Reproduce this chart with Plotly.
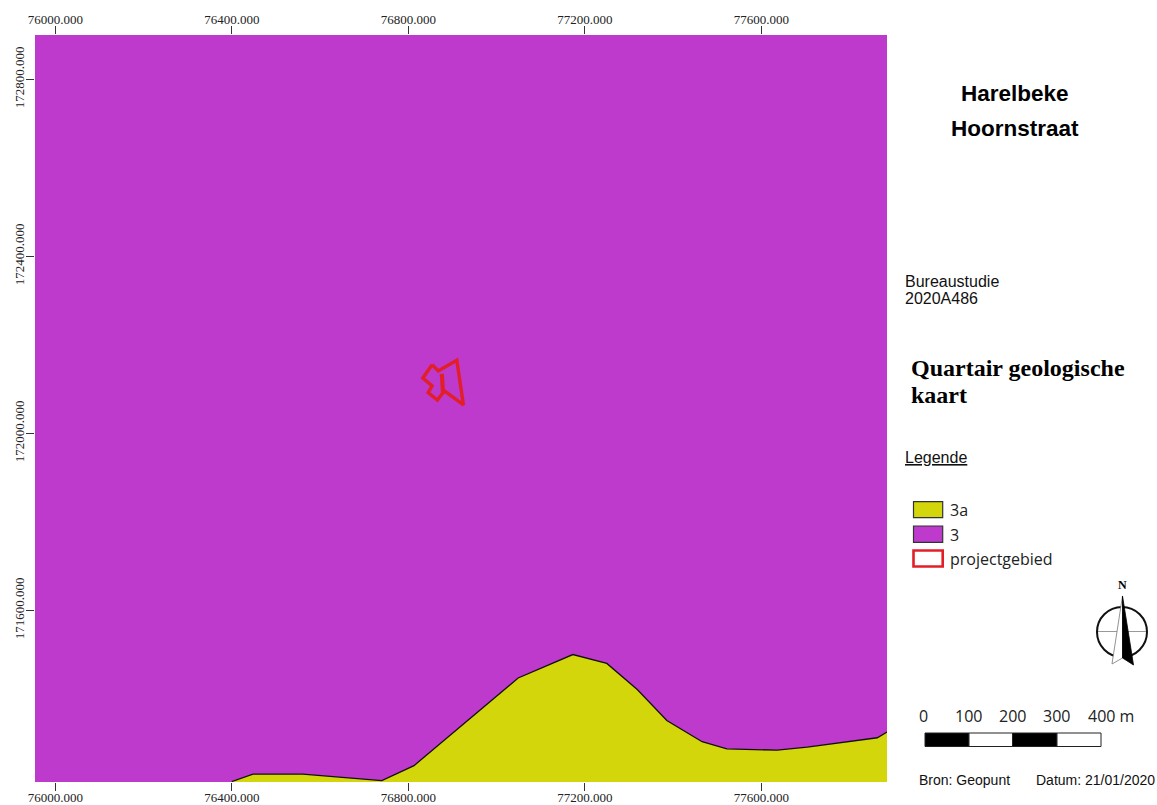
import plotly.graph_objects as go

map_x = [75954, 77885, 77885, 75954, 75954]
map_y = [172900, 172900, 171212, 171212, 172900]
unit3a_x = [76400, 76448, 76561, 76740, 76813, 77049, 77173, 77250, 77319, 77386, 77466, 77522, 77636, 77704, 77863, 77885]
unit3a_y = [171213, 171230, 171230, 171215, 171249, 171447, 171500, 171480, 171421, 171351, 171303, 171287, 171284, 171291, 171312, 171325]
project_x = [76854, 76833, 76854, 76845, 76866, 76882, 76925, 76910, 76868, 76854]
project_y = [172155, 172125, 172107, 172092, 172075, 172096, 172064, 172165, 172141, 172155]
inner_x = [76876, 76879]
inner_y = [172134, 172089]
x_ticks = [76000, 76400, 76800, 77200, 77600]
y_ticks = [171600, 172000, 172400, 172800]
x_range = [75954, 77885]
y_range = [171212, 172900]
legend_labels = ["3a", "3", "projectgebied"]
scale_labels = ["0", "100", "200", "300", "400 m"]

PURPLE = "#BE3ACC"
YELLOW = "#D2D60A"
RED = "#E21F26"
W, H = 1157, 805
L, R, T, B = 35, 887, 35, 782
SIDE_FONT = "Open Sans"


def px(x):
    return (x - L) / (R - L)


def py(y):
    return (B - y) / (B - T)


fig = go.Figure()
fig.add_trace(go.Scatter(x=map_x, y=map_y, mode="none", fill="toself", fillcolor=PURPLE,
                         name=legend_labels[1], hoverinfo="skip"))
fig.add_trace(go.Scatter(x=unit3a_x, y=unit3a_y, mode="lines", fill="tozeroy", fillcolor=YELLOW,
                         line=dict(color="#111111", width=1.3), name=legend_labels[0]))
fig.add_trace(go.Scatter(x=project_x, y=project_y, mode="lines",
                         line=dict(color=RED, width=3.4), name=legend_labels[2]))
fig.add_trace(go.Scatter(x=inner_x, y=inner_y, mode="lines", xaxis="x2",
                         line=dict(color=RED, width=4.2), showlegend=False))

tick_font = dict(family="Liberation Serif", size=13, color="#222222")
axis_common = dict(tickmode="array", ticks="outside", ticklen=8, tickwidth=1.4, tickcolor="#333333",
                   tickfont=tick_font, tickformat=".3f", showgrid=False, zeroline=False, showline=False,
                   automargin=False)

shapes = []
annotations = []


def text(x, y, s, size, family="Liberation Sans", anchor="left", color="#111111"):
    annotations.append(dict(text=s, x=px(x), y=py(y), xref="paper", yref="paper", xanchor=anchor,
                            yanchor="middle", showarrow=False, align=anchor, borderpad=0,
                            font=dict(family=family, size=size, color=color)))


def rect(x0, y0, x1, y1, fill, line, width=1.2):
    shapes.append(dict(type="rect", xref="paper", yref="paper", x0=px(x0), x1=px(x1), y0=py(y0), y1=py(y1),
                       fillcolor=fill, line=dict(color=line, width=width), layer="above"))


def poly(points, fill, line, width=1.0):
    d = "M " + " L ".join(f"{px(a):.5f},{py(b):.5f}" for a, b in points) + " Z"
    shapes.append(dict(type="path", xref="paper", yref="paper", path=d, fillcolor=fill,
                       line=dict(color=line, width=width), layer="above"))


# titles
text(1015, 94, "<b>Harelbeke</b>", 22.5, anchor="center", color="#000000")
text(1015, 128, "<b>Hoornstraat</b>", 22.5, anchor="center", color="#000000")
text(904, 281, "Bureaustudie", 16)
text(904, 298, "2020A486", 16)
text(910, 368, "<b>Quartair geologische</b>", 24, family="Liberation Serif", color="#000000")
text(910, 395, "<b>kaart</b>", 24, family="Liberation Serif", color="#000000")
text(904, 458, "<u>Legende</u>", 16)

# legend
rect(913.5, 501.7, 942.7, 517.7, YELLOW, "#333333")
rect(913.5, 526, 942.7, 542.3, PURPLE, "#333333")
rect(913.5, 550.5, 942.7, 566.5, "white", RED, 2.6)
for yy, lab in zip([510, 535, 559], legend_labels):
    text(949, yy, lab, 16, family=SIDE_FONT, color="#222222")

# north arrow
shapes.append(dict(type="circle", xref="paper", yref="paper", x0=px(1097), x1=px(1147), y0=py(607), y1=py(657),
                   line=dict(color="#111111", width=2), layer="above"))
shapes.append(dict(type="line", xref="paper", yref="paper", x0=px(1098), x1=px(1146), y0=py(631.5), y1=py(631.5),
                   line=dict(color="#999999", width=1), layer="above"))
poly([(1122.5, 596), (1112, 664), (1122.5, 658)], "white", "#777777", 0.8)
poly([(1122.5, 596), (1133.5, 665), (1122.5, 658)], "black", "black", 0.8)
text(1122, 585, "<b>N</b>", 12, family="Liberation Serif", anchor="center", color="#000000")

# scale bar
edges = [925, 969, 1012.5, 1057, 1101]
for i in range(4):
    rect(edges[i], 733, edges[i + 1], 746.5, "black" if i % 2 == 0 else "white", "#222222", 1)
for xx, lab in zip([924, 968, 1012, 1056], scale_labels[:4]):
    text(xx, 716, lab, 16, family=SIDE_FONT, anchor="center", color="#222222")
text(1087, 716, scale_labels[4], 16, family=SIDE_FONT, color="#222222")

text(918, 780, "Bron: Geopunt", 14)
text(1035, 780, "Datum: 21/01/2020", 14)

fig.update_layout(
    width=W, height=H, autosize=False,
    margin=dict(l=L, r=W - R, t=T, b=H - B, pad=0),
    paper_bgcolor="white", plot_bgcolor=PURPLE, showlegend=False,
    xaxis=dict(range=x_range, tickvals=x_ticks, side="bottom", ticklabelstandoff=-5, **axis_common),
    xaxis2=dict(range=x_range, tickvals=x_ticks, side="top", overlaying="x", anchor="y",
                ticklabelstandoff=-3, **axis_common),
    yaxis=dict(range=y_range, tickvals=y_ticks, tickangle=-90, ticklabelstandoff=-3, **axis_common),
    shapes=shapes, annotations=annotations,
)
fig.write_html("out.html", config={"displayModeBar": False},
               post_script="document.body.style.margin='0';document.body.style.overflow='hidden';")
